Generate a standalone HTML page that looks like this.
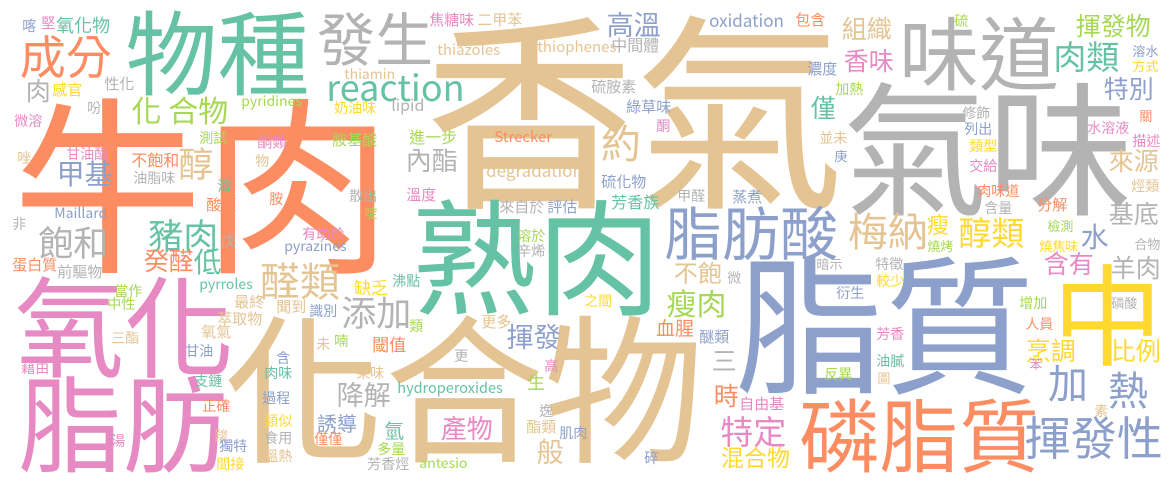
<!DOCTYPE html>
<html><head><meta charset="utf-8">
<style>
html,body{margin:0;padding:0;background:#fff}
#cloud{position:relative;width:1175px;height:482px;overflow:hidden;background:#fff}
#cloud span{position:absolute;white-space:pre;line-height:1;font-family:"Noto Sans CJK TC","Liberation Sans",sans-serif;}
</style></head>
<body>
<div id="cloud"></div>
<script>
const G="#66c2a5",O="#fc8d62",B="#8da0cb",P="#e78ac3",L="#a6d854",Y="#ffd92f",T="#e5c494",R="#b3b3b3";
const words=[
["香氣",435,17,210,T],["牛肉",22,100,190,O],["化合物",232,317,160,T],["脂質",742,258,150,B],["氣味",850,83,145,R],
["熟肉",418,200,125,G],["氧化",20,277,110,P],["脂肪",23,377,105,P],["中",1058,265,110,Y],["物種",130,12,92,G],
["味道",903,18,80,R],["磷脂質",803,400,80,O],["脂肪酸",667,207,58,B],["發生",320,13,58,R],["揮發性",1027,418,46,B],
["成分",22,37,46,O],["梅納",850,213,40,T],["醛類",262,263,40,T],["約",603,125,40,T],["加",1050,365,40,B],["熱",1110,372,40,B],
["reaction",328,72,36,G],["飽和",40,227,35,R],["豬肉",150,220,35,G],["添加",343,297,35,R],["醇",180,148,35,T],
["特定",722,417,33,P],["醇類",960,218,33,Y],["肉類",1055,42,33,G],["化 合物",133,97,30,L],["瘦肉",668,290,30,L],
["甲基",58,162,28,B],["低",195,250,28,G],["水",1082,225,28,B],["高溫",608,13,27,B],["揮發",508,325,27,B],["降解",338,383,27,R],["般",538,440,27,T],
["內酯",407,150,26,R],["產物",442,418,26,P],["癸醛",145,250,25,O],["組織",843,18,25,T],["揮發物",1077,15,25,L],["香味",845,50,25,P],
["特別",1105,78,25,B],["僅",812,97,25,G],["來源",1110,150,25,T],["基底",1110,203,25,R],["含有",1045,253,25,P],["羊肉",1112,257,25,R],
["烹調",1027,340,25,Y],["比例",1112,340,25,Y],["三",713,350,25,R],["時",715,385,25,O],["肉",27,80,25,R],["不飽",675,262,24,T],
["混合物",722,447,23,Y],["瘦",928,215,22,Y],["誘導",318,415,20,B],["氫",385,422,20,G],["血腥",657,320,19,O],["生",528,375,18,L],
["氧化物",57,18,18,G],["oxidation",710,13,17,B],["degradation",487,163,17,T],["缺乏",355,280,17,Y],["閾值",373,337,17,O],
["不飽和",132,153,16,O],["lipid",392,98,16,R],["中間體",612,38,16,R],["進一步",410,130,16,L],["芳香族",612,195,16,G],
["Strecker",495,130,15,O],["thiazoles",438,43,15,T],["thiophenes",538,40,15,T],["焦糖味",430,13,15,P],["二甲苯",478,13,15,T],
["硫胺素",592,80,15,R],["綠草味",627,100,15,B],["硫化物",602,175,15,B],["溫度",407,188,15,P],["來自於",500,200,15,R],["評估",548,200,15,B],
["蒸煮",733,190,15,B],["更多",482,315,15,T],["醚類",700,330,15,B],["自由基",740,397,15,P],["酯類",527,420,15,T],
["酮類",258,135,15,P],["胺基酸",333,133,15,L],["酸類",207,198,15,O],["蛋白質",13,258,15,O],["前驅物",58,265,15,R],
["最終",235,295,15,T],["聞到",277,300,15,T],["萃取物",218,312,15,T],["氧氣",202,325,15,T],["感官",53,83,15,Y],["性化",105,77,15,R],
["包含",796,13,15,O],["濃度",808,62,15,B],["分解",1038,198,15,O],["hydroperoxides",398,382,14.5,G],
["thiamin",345,68,14,T],["pyridines",242,95,14,L],["奶油味",335,102,14,Y],["微溶",15,115,14,P],["測試",200,132,14,L],["甘油酯",67,148,14,P],
["油脂味",134,172,14,R],["物",256,155,14,T],["唑",18,152,14,T],["溶",218,180,14,G],["散出",350,190,14,R],["胺",270,193,14,O],
["Maillard",55,207,14,B],["非",13,218,14,R],["有助於",303,228,14,P],["戊",222,235,14,R],["pyrazines",285,240,14,B],["pyrroles",200,278,14,G],
["沸點",393,275,14,G],["當作",115,285,14,L],["中性",108,298,14,L],["識別",310,305,14,B],["類",410,320,14,L],["三酯",112,332,14,T],
["未",317,338,14,T],["喃",335,335,14,L],["甘油",186,345,14,B],["含",277,352,14,B],["藉由",22,362,14,P],["肉味",265,367,14,G],
["果味",357,367,14,T],["支鏈",195,375,14,G],["正確",203,400,14,O],["過程",263,392,14,B],["類似",265,415,14,Y],["羧",215,430,14,T],
["食用",265,432,14,R],["僅僅",315,433,14,O],["湯",112,435,14,P],["獨特",220,440,14,B],["多量",378,443,14,L],["溫熱",265,450,14,T],
["芳香烴",368,458,14,R],["間接",217,458,14,Y],["喀",23,20,14,B],["堅",42,17,14,P],["吩",88,102,14,R],["啶",365,207,13,L],
["酮",657,120,14,P],["甲醛",678,190,14,R],["溶於",518,230,14,L],["辛烯",518,245,14,R],["微",728,272,14,R],["之間",585,295,14,Y],
["更",455,350,14,R],["高",545,360,14,P],["逸",540,405,14,R],["肌肉",560,427,14,B],["碎",645,452,14,B],["antesio",420,457,14,L],
["硫",955,15,14,L],["溶水",1133,45,13,B],["方式",1133,60,13,Y],["加熱",836,83,14,L],["修飾",963,107,14,R],["關",1140,110,13,O],
["列出",965,123,14,B],["水溶液",1088,122,14,P],["並未",820,132,14,T],["類型",970,140,14,Y],["描述",1133,135,14,P],["庚",835,150,13,B],
["交給",970,160,14,P],["肉味道",978,185,14,O],["烴類",1132,180,14,T],["含量",985,202,14,R],["檢測",1048,220,13,L],["燒烤",928,240,13,L],
["燒焦味",1040,240,13,Y],["合物",1135,238,13,R],["暗示",817,258,13,R],["特徵",876,258,14,R],["較少",877,275,14,Y],["衍生",837,287,14,B],
["增加",1020,297,14,L],["磷酸",1112,297,13,R],["人員",1026,318,14,O],["芳香",877,328,14,P],["苯",1030,358,13,P],["油膩",877,355,14,G],
["反異",825,368,14,L],["圖",878,372,13,T],["素",1095,405,14,T]
];
const cloud=document.getElementById('cloud');
words.forEach(function(w){
  const s=document.createElement('span');
  s.textContent=w[0];
  s.style.left=(w[1]-0.05*w[3])+'px';
  s.style.top=(w[2]-0.1*w[3])+'px';
  s.style.fontSize=w[3]+'px';
  s.style.color=w[4];
  
  
  cloud.appendChild(s);
});
</script>
</body></html>
